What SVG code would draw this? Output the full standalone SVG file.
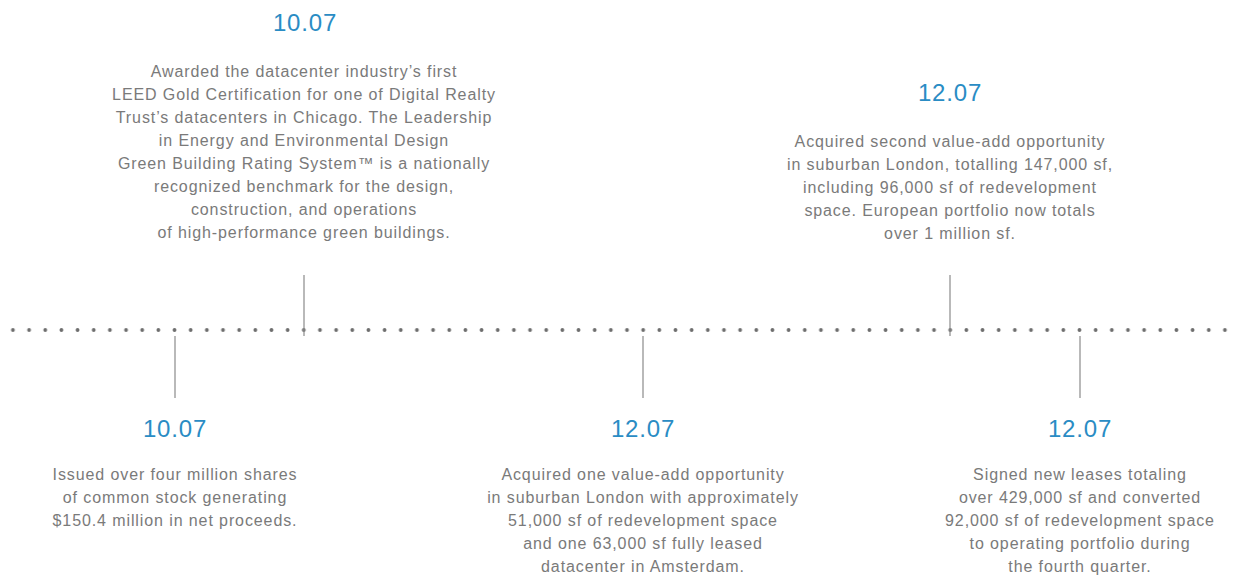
<svg xmlns="http://www.w3.org/2000/svg" width="1237" height="577" viewBox="0 0 1237 577">
<style>
.date{font-family:"Liberation Sans",Arial,sans-serif;font-size:24px;fill:#2a8cc4;text-anchor:middle;letter-spacing:0.8px}
.body{font-family:"Liberation Sans",Arial,sans-serif;font-size:16px;fill:#7a7a7a;text-anchor:middle;letter-spacing:0.9px}
.stem{stroke:#8a8a8a;stroke-width:1.2}
</style>
<defs>
<pattern id="dots" x="4.84" y="0" width="16.16" height="20" patternUnits="userSpaceOnUse">
<circle cx="8.08" cy="10" r="1.9" fill="#6e6e6e"/>
</pattern>
</defs>
<rect width="1237" height="577" fill="#ffffff"/>
<g id="connectors">
<rect x="4" y="326" width="1230" height="20" fill="url(#dots)"/>
<line class="stem" x1="304" y1="275" x2="304" y2="336"/>
<line class="stem" x1="950" y1="275" x2="950" y2="336"/>
<line class="stem" x1="175" y1="336" x2="175" y2="398"/>
<line class="stem" x1="643" y1="336" x2="643" y2="398"/>
<line class="stem" x1="1080" y1="336" x2="1080" y2="398"/>
</g>
<g id="event-top-left">
<text class="date" x="305" y="31">10.07</text>
<text class="body" x="304" y="77">Awarded the datacenter industry’s first</text>
<text class="body" x="304" y="100">LEED Gold Certification for one of Digital Realty</text>
<text class="body" x="304" y="123">Trust’s datacenters in Chicago. The Leadership</text>
<text class="body" x="304" y="146">in Energy and Environmental Design</text>
<text class="body" x="304" y="169">Green Building Rating System™ is a nationally</text>
<text class="body" x="304" y="192">recognized benchmark for the design,</text>
<text class="body" x="304" y="215">construction, and operations</text>
<text class="body" x="304" y="238">of high-performance green buildings.</text>
</g>
<g id="event-top-right">
<text class="date" x="950" y="101">12.07</text>
<text class="body" x="950" y="147">Acquired second value-add opportunity</text>
<text class="body" x="950" y="170">in suburban London, totalling 147,000 sf,</text>
<text class="body" x="950" y="193">including 96,000 sf of redevelopment</text>
<text class="body" x="950" y="216">space. European portfolio now totals</text>
<text class="body" x="950" y="239">over 1 million sf.</text>
</g>
<g id="event-bottom-left">
<text class="date" x="175" y="437">10.07</text>
<text class="body" x="175" y="480">Issued over four million shares</text>
<text class="body" x="175" y="503">of common stock generating</text>
<text class="body" x="175" y="526">$150.4 million in net proceeds.</text>
</g>
<g id="event-bottom-middle">
<text class="date" x="643" y="437">12.07</text>
<text class="body" x="643" y="480">Acquired one value-add opportunity</text>
<text class="body" x="643" y="503">in suburban London with approximately</text>
<text class="body" x="643" y="526">51,000 sf of redevelopment space</text>
<text class="body" x="643" y="549">and one 63,000 sf fully leased</text>
<text class="body" x="643" y="572">datacenter in Amsterdam.</text>
</g>
<g id="event-bottom-right">
<text class="date" x="1080" y="437">12.07</text>
<text class="body" x="1080" y="480">Signed new leases totaling</text>
<text class="body" x="1080" y="503">over 429,000 sf and converted</text>
<text class="body" x="1080" y="526">92,000 sf of redevelopment space</text>
<text class="body" x="1080" y="549">to operating portfolio during</text>
<text class="body" x="1080" y="572">the fourth quarter.</text>
</g>
</svg>
